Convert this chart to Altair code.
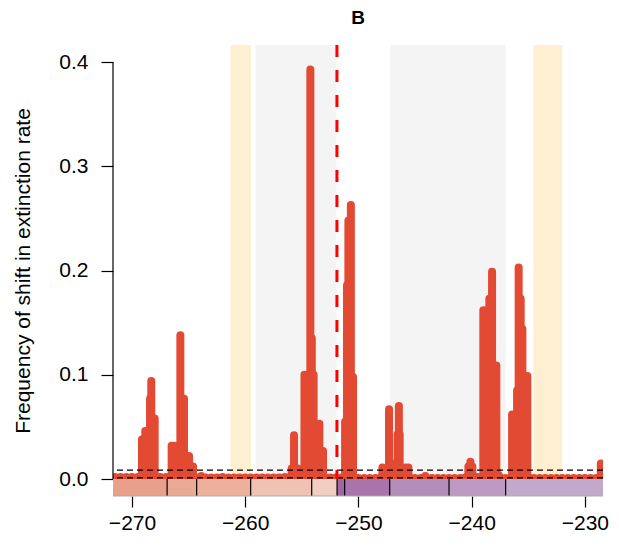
import altair as alt
import pandas as pd

# ---- data ----
peak_time = [-269.12, -268.83, -268.41, -268.30, -268.00,
             -266.50, -266.25, -265.73, -265.41, -264.96, -264.61, -263.88,
             -255.90, -255.69, -255.35, -254.77, -254.50, -254.25, -254.12, -253.96, -253.45, -253.13,
             -251.18, -251.01, -250.89, -250.67, -250.48,
             -247.88, -247.30, -247.00, -246.54, -246.43, -246.36, -245.86, -245.59,
             -244.09,
             -240.29, -240.11, -239.94,
             -238.97, -238.44, -238.20, -237.82, -237.64,
             -236.43, -235.99, -235.85, -235.67, -235.52, -235.08,
             -228.59]
peak_freq = [0.038, 0.046, 0.077, 0.094, 0.058,
             0.032, 0.032, 0.138, 0.077, 0.022, 0.012, 0.003,
             0.010, 0.042, 0.010, 0.100, 0.100, 0.393, 0.135, 0.100, 0.053, 0.027,
             0.055, 0.186, 0.248, 0.263, 0.098,
             0.011, 0.067, 0.015, 0.043, 0.070, 0.043, 0.011, 0.011,
             0.003,
             0.012, 0.0166, 0.012,
             0.162, 0.173, 0.199, 0.109, 0.004,
             0.062, 0.085, 0.203, 0.173, 0.144, 0.099,
             0.015]

base_time = [-271.5, -271.0, -270.5, -270.0, -269.5, -269.0, -268.5, -268.0, -267.5, -267.0,
             -266.5, -266.0, -265.5, -265.0, -264.5, -264.0, -263.5, -263.0, -262.5, -262.0,
             -261.5, -261.0, -260.5, -260.0, -259.5, -259.0, -258.5, -258.0, -257.5, -257.0,
             -256.5, -256.0, -255.5, -255.0, -254.5, -254.0, -253.5, -253.0, -252.5, -252.0,
             -251.5, -251.0, -250.5, -250.0, -249.5, -249.0, -248.5, -248.0, -247.5, -247.0,
             -246.5, -246.0, -245.5, -245.0, -244.5, -244.0, -243.5, -243.0, -242.5, -242.0,
             -241.5, -241.0, -240.5, -240.0, -239.5, -239.0, -238.5, -238.0, -237.5, -237.0,
             -236.5, -236.0, -235.5, -235.0, -234.5, -234.0, -233.5, -233.0, -232.5, -232.0,
             -231.5, -231.0, -230.5, -230.0, -229.5, -229.0, -228.5]
base_freq = [0.002, 0.002, 0.002, 0.002, 0.002, 0.002, 0.002, 0.002, 0.002, 0.002,
             0.002, 0.002, 0.002, 0.002, 0.002, 0.002, 0.0015, 0.0015, 0.0015, 0.002,
             0.0015, 0.0015, 0.0015, 0.0015, 0.0015, 0.0015, 0.0015, 0.0015, 0.0015, 0.0015,
             0.002, 0.002, 0.002, 0.002, 0.002, 0.002, 0.002, 0.002, 0.0015, 0.0015,
             0.0015, 0.002, 0.002, 0.001, 0.001, 0.001, 0.001, 0.002, 0.002, 0.002,
             0.002, 0.002, 0.002, 0.001, 0.001, 0.001, 0.001, 0.001, 0.001, 0.001,
             0.001, 0.001, 0.002, 0.002, 0.002, 0.002, 0.002, 0.002, 0.002, 0.001,
             0.002, 0.002, 0.002, 0.002, 0.001, 0.001, 0.001, 0.001, 0.001, 0.001,
             0.001, 0.001, 0.001, 0.001, 0.001, 0.001, 0.002]

bg_start = [-261.3, -259.1, -247.2, -234.55]
bg_end = [-259.5, -251.95, -237.0, -232.0]
bg_color = ["#FEEFD0", "#F4F4F4", "#F4F4F4", "#FEEFD0"]

stage_start = [-271.68, -266.9, -264.29, -259.52, -254.13, -251.89, -251.22, -247.24, -242.0, -237.0]
stage_end = [-266.9, -264.29, -259.52, -254.13, -251.89, -251.22, -247.24, -242.0, -237.0, -228.4]
stage_color = ["#E8A08A", "#EAA993", "#ECB09C", "#F0C2B3", "#F1CEC1",
               "#A166A4", "#A974A9", "#B48EBA", "#BD9AC2", "#C2A9CC"]

thresholds = [0.0086, 0.0012]
boundary_time = -251.9

x_ticks = [-270, -260, -250, -240, -230]
y_ticks = [0.0, 0.1, 0.2, 0.3, 0.4]

XMIN, XMAX = -271.68, -228.4
YMIN, YMAX = -0.0163, 0.4166
RED = "#E34A33"
FONT = "Liberation Sans"

xs = alt.Scale(domain=[XMIN, XMAX], nice=False, zero=False)
ys = alt.Scale(domain=[YMIN, YMAX], nice=False, zero=False)

X_AX = alt.Axis(values=x_ticks, format="d", title=None, domain=False, grid=False,
                tickSize=11, tickColor="black", tickWidth=1.2,
                labelFontSize=21, labelPadding=5, labelColor="black", labelFont=FONT)
Y_AX = alt.Axis(values=y_ticks, format=".1f", title="Frequency of shift in extinction rate",
                domain=False, grid=False, tickSize=12, tickColor="black", tickWidth=1.2,
                labelFontSize=21, labelPadding=13, labelColor="black", labelFont=FONT,
                titleFontSize=21, titleFontWeight="normal", titleFont=FONT,
                titleColor="black", titlePadding=25)

bars_df = pd.DataFrame({
    "t": base_time + peak_time,
    "freq": base_freq + peak_freq,
})
bars_df["lo"] = 0.0

bg_df = pd.DataFrame({"s": bg_start, "e": bg_end, "c": bg_color})
stage_df = pd.DataFrame({"s": stage_start, "e": stage_end, "c": stage_color})
sep_df = pd.DataFrame({"t": stage_start[1:]})
thr_df = pd.DataFrame({"y": thresholds})

bg = alt.Chart(bg_df).mark_rect().encode(
    x=alt.X("s:Q", scale=xs, axis=X_AX),
    x2="e:Q",
    y=alt.YDatum(0.0, scale=ys, axis=Y_AX),
    y2=alt.Y2Datum(YMAX),
    color=alt.Color("c:N", scale=None),
)

bars = alt.Chart(bars_df).mark_rule(strokeWidth=8, strokeCap="round", color=RED, clip=True).encode(
    x=alt.X("t:Q", scale=xs, axis=X_AX),
    y=alt.Y("freq:Q", scale=ys, axis=Y_AX),
    y2="lo:Q",
)

thr = alt.Chart(thr_df).mark_rule(color="black", strokeWidth=1.3, strokeDash=[6, 4]).encode(
    y=alt.Y("y:Q", scale=ys, axis=Y_AX)
)

vline = alt.Chart(pd.DataFrame({"t": [boundary_time]})).mark_rule(
    color="#FF0000", strokeWidth=3, strokeDash=[12, 13]
).encode(x=alt.X("t:Q", scale=xs, axis=X_AX))

stages = alt.Chart(stage_df).mark_rect().encode(
    x=alt.X("s:Q", scale=xs, axis=X_AX),
    x2="e:Q",
    y=alt.YDatum(YMIN, scale=ys, axis=Y_AX),
    y2=alt.Y2Datum(0.0),
    color=alt.Color("c:N", scale=None),
)

seps = alt.Chart(sep_df).mark_rule(color="black", strokeWidth=1.2).encode(
    x=alt.X("t:Q", scale=xs, axis=X_AX),
    y=alt.YDatum(YMIN, scale=ys, axis=Y_AX),
    y2=alt.Y2Datum(0.0),
)

bottom_line = alt.Chart(pd.DataFrame({"y": [YMIN]})).mark_rule(color="#AAAAAA", strokeWidth=1).encode(
    y=alt.Y("y:Q", scale=ys, axis=Y_AX)
)

yaxis_line = alt.Chart(pd.DataFrame({"a": [0.0], "b": [0.4]})).mark_rule(color="black", strokeWidth=1.2).encode(
    x=alt.XDatum(XMIN, scale=xs, axis=X_AX),
    y=alt.Y("a:Q", scale=ys, axis=Y_AX),
    y2="b:Q",
)

chart = alt.layer(bg, bars, thr, vline, stages, seps, bottom_line, yaxis_line).properties(
    width=490,
    height=451,
    title=alt.TitleParams("B", fontSize=19, fontWeight="bold", font=FONT, anchor="middle", offset=16, color="black"),
    autosize=alt.AutoSizeParams(type="none"),
    padding={"left": 113, "top": 45, "right": 16, "bottom": 57},
).configure(font=FONT, background="white").configure_view(stroke=None)

chart.save("out.html", embed_options={"renderer": "svg", "actions": False})
